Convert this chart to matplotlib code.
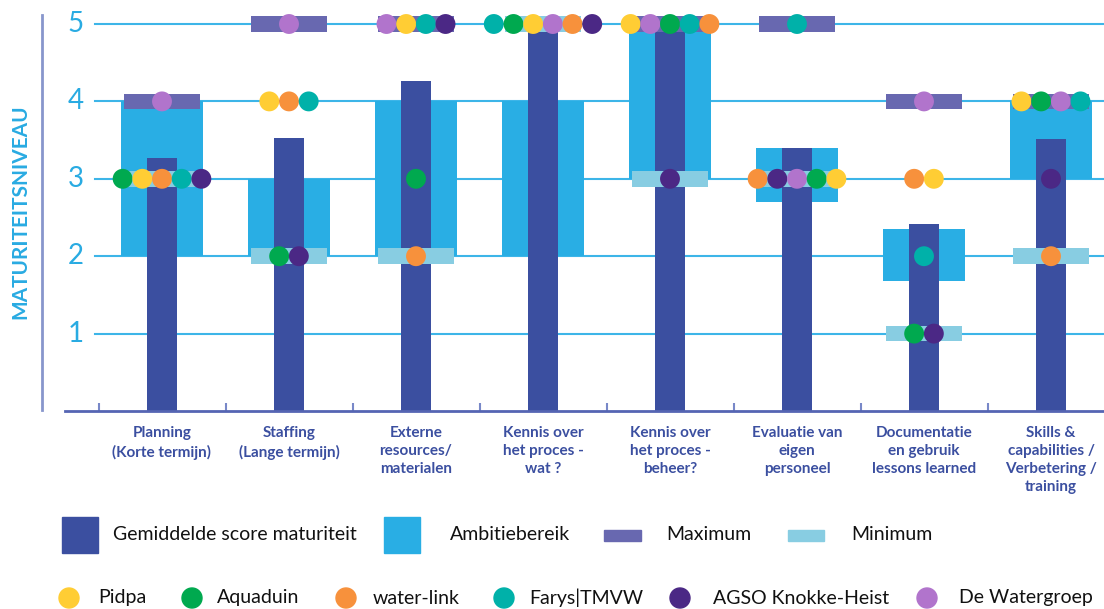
import matplotlib
matplotlib.use("Agg")
import matplotlib.pyplot as plt
from matplotlib.patches import Rectangle, Ellipse
from matplotlib.lines import Line2D
from matplotlib.transforms import blended_transform_factory
import numpy as np

# ---- data -------------------------------------------------------------
categories = [
    "Planning\n(Korte termijn)",
    "Staffing\n(Lange termijn)",
    "Externe\nresources/\nmaterialen",
    "Kennis over\nhet proces -\nwat ?",
    "Kennis over\nhet proces -\nbeheer?",
    "Evaluatie van\neigen\npersoneel",
    "Documentatie\nen gebruik\nlessons learned",
    "Skills &\ncapabilities /\nVerbetering /\ntraining",
]

avg_score = [3.27, 3.53, 4.26, 5.0, 4.95, 3.40, 2.42, 3.52]
ambition_low = [2.0, 2.0, 2.0, 2.0, 3.0, 2.7, 1.68, 3.0]
ambition_high = [4.0, 3.0, 4.0, 4.0, 5.0, 3.4, 2.35, 4.0]
maximum = [4, 5, 5, 5, 5, 5, 4, 4]
minimum = [3, 2, 2, 5, 3, 3, 1, 2]

companies = ["Pidpa", "Aquaduin", "water-link", "Farys|TMVW",
             "AGSO Knokke-Heist", "De Watergroep"]
company_colors = ["#FFCD34", "#00A94F", "#F7913C", "#00B1A9", "#4B2885", "#B174CC"]

pidpa = [3, 4, 5, 5, 5, 3, 3, 4]
aquaduin = [3, 2, 3, 5, 5, 3, 1, 4]
water_link = [3, 4, 2, 5, 5, 3, 3, 2]
farys = [3, 4, 5, 5, 5, 5, 2, 4]
agso = [3, 2, 5, 5, 3, 3, 1, 3]
watergroep = [4, 5, 5, 5, 5, 3, 4, 4]
company_scores = [pidpa, aquaduin, water_link, farys, agso, watergroep]

# left-to-right order of the company dots inside each category
dot_order = [
    [5, 1, 0, 2, 3, 4],
    [5, 0, 2, 3, 1, 4],
    [5, 0, 3, 4, 1, 2],
    [3, 1, 0, 5, 2, 4],
    [0, 5, 1, 3, 2, 4],
    [3, 2, 4, 5, 1, 0],
    [5, 2, 0, 3, 1, 4],
    [0, 1, 5, 3, 4, 2],
]

# ---- style ------------------------------------------------------------
C_AVG = "#3B4FA0"
C_AMB = "#29AEE4"
C_MAX = "#6868B0"
C_MIN = "#88CDE2"
C_GRID = "#3DB5E8"
C_TICK = "#29ABE2"
C_AXIS = "#5565B3"

plt.rcParams["font.family"] = ["Lato", "DejaVu Sans"]

W, H = 1104, 609
fig = plt.figure(figsize=(W / 100, H / 100), dpi=100)
ax_left, ax_right, ax_bottom_px = 65, 1104, 411
ax = fig.add_axes([ax_left / W, 1 - ax_bottom_px / H,
                   (ax_right - ax_left) / W, ax_bottom_px / H])

px_per_cat = 127.0
center0 = 162.0
px_per_unit = 77.4
ax.set_xlim(-(center0 - ax_left) / px_per_cat, (ax_right - center0) / px_per_cat)
ax.set_ylim(0, ax_bottom_px / px_per_unit)

x = np.arange(len(categories))

# horizontal grid, starting a little right of the axes edge
grid_start = (95 - ax_left) / (ax_right - ax_left)
for yv in range(1, 6):
    ax.axhline(yv, xmin=grid_start, xmax=1, color=C_GRID, lw=1.5, zorder=0)

# ambition range
amb_h = np.array(ambition_high) - np.array(ambition_low)
ax.bar(x, amb_h, bottom=ambition_low, width=0.65, color=C_AMB, zorder=1)
# average maturity
ax.bar(x, avg_score, width=0.235, color=C_AVG, zorder=2)
# maximum and minimum markers
band = 0.2
ax.bar(x, band, bottom=np.array(maximum) - band / 2, width=0.6, color=C_MAX, zorder=3)
ax.bar(x, band, bottom=np.array(minimum) - band / 2, width=0.6, color=C_MIN, zorder=4)

# company dots, grouped per score level and centred on the category
spacing = 0.155
for ci, order in enumerate(dot_order):
    levels = {}
    for comp in order:
        levels.setdefault(company_scores[comp][ci], []).append(comp)
    for val, comps in levels.items():
        n = len(comps)
        for k, comp in enumerate(comps):
            ax.scatter(ci + (k - (n - 1) / 2) * spacing, val, s=205,
                       color=company_colors[comp], edgecolors="none",
                       zorder=5 + k)

# axes decoration
for side in ("top", "right", "left"):
    ax.spines[side].set_visible(False)
ax.spines["bottom"].set_color(C_AXIS)
ax.spines["bottom"].set_linewidth(2)
ax.set_xticks(x - 0.5)
ax.set_xticklabels([])
ax.tick_params(axis="x", direction="in", length=6, width=1.5, color="#7888C8")
ax.set_yticks([])

ytf = blended_transform_factory(ax.transAxes, ax.transData)
for yv in range(1, 6):
    ax.text((76 - ax_left) / (ax_right - ax_left), yv, str(yv), transform=ytf,
            ha="center", va="center", fontsize=20, color=C_TICK,
            fontweight="normal")

# category labels
for i, lab in enumerate(categories):
    ax.text(i, -0.2, lab, ha="center", va="top", fontsize=11,
            fontweight="bold", color=C_AVG, linespacing=1.36, clip_on=False)

# vertical rule and axis title
fig.add_artist(Line2D([42 / W, 42 / W], [1 - 15 / H, 1 - 410 / H],
                      color="#8896CC", lw=2))
fig.text(20 / W, 1 - 212 / H, "MATURITEITSNIVEAU", rotation=90, ha="center",
         va="center", fontsize=15, fontweight="bold", color=C_TICK)


def fx(px):
    return px / W


def fy(py):
    return 1 - py / H


LEG = 14
# legend row: bar types
fig.add_artist(Rectangle((fx(62), fy(553)), 36 / W, 36 / H, color=C_AVG))
fig.text(fx(113), fy(535), "Gemiddelde score maturiteit", fontsize=LEG,
         va="center", color="#111111")
fig.add_artist(Rectangle((fx(384), fy(553)), 36 / W, 36 / H, color=C_AMB))
fig.text(fx(450), fy(535), "Ambitiebereik", fontsize=LEG, va="center",
         color="#111111")
fig.add_artist(Rectangle((fx(604), fy(541)), 37 / W, 11 / H, color=C_MAX))
fig.text(fx(666), fy(535), "Maximum", fontsize=LEG, va="center", color="#111111")
fig.add_artist(Rectangle((fx(788), fy(541)), 36 / W, 11 / H, color=C_MIN))
fig.text(fx(851), fy(535), "Minimum", fontsize=LEG, va="center", color="#111111")

# legend row: companies
dot_x = [69, 192, 346, 504, 680, 927]
txt_x = [98, 217, 373, 529, 713, 959]
for name, col, dx, tx in zip(companies, company_colors, dot_x, txt_x):
    fig.add_artist(Ellipse((fx(dx), fy(598)), 20 / W, 20 / H, color=col))
    fig.text(fx(tx), fy(598), name, fontsize=LEG, va="center", color="#111111")

fig.savefig("out.png", dpi=100)
